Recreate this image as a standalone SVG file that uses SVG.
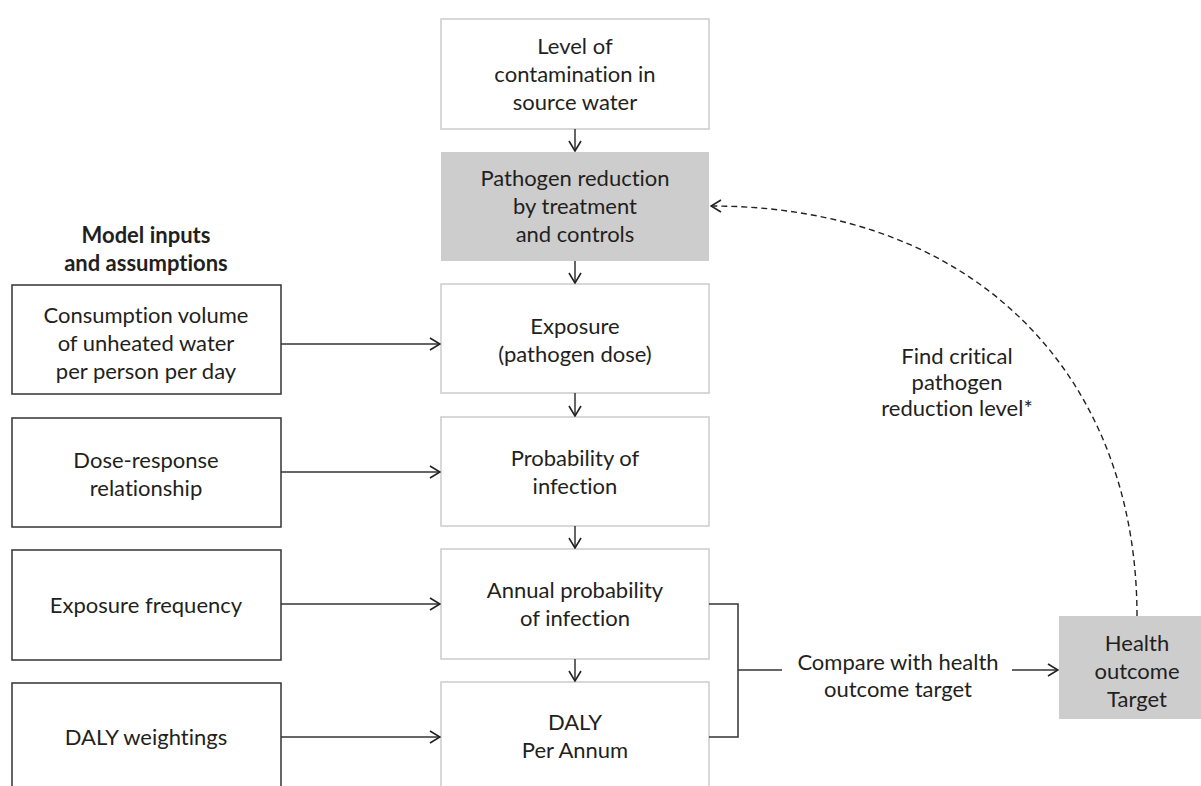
<svg xmlns="http://www.w3.org/2000/svg" width="1201" height="786" viewBox="0 0 1201 786">
  <defs>
    <style>
      text { font-family: Lato, "Open Sans", "Liberation Sans", sans-serif; font-size: 22px; fill: #231f20; text-anchor: middle; font-variant-ligatures: none; }
      .title { font-weight: bold; }
      .step { fill: #ffffff; stroke: #cbcbcb; stroke-width: 1.5; }
      .input { fill: #ffffff; stroke: #333333; stroke-width: 1.5; }
      .shaded { fill: #cdcdcd; stroke: none; }
      .link { fill: none; stroke: #333333; stroke-width: 1.5; }
      .feedback { fill: none; stroke: #222222; stroke-width: 1.4; stroke-dasharray: 6 4; }
    </style>
    <marker id="head" viewBox="0 0 12 14" refX="11" refY="7" markerWidth="12" markerHeight="14" markerUnits="userSpaceOnUse" orient="auto">
      <path d="M1,1 L11,7 L1,13" fill="none" stroke="#222222" stroke-width="1.6"/>
    </marker>
  </defs>

  <rect width="1201" height="786" fill="#ffffff"/>

  <!-- Central chain -->
  <g id="source-water">
    <rect class="step" x="441" y="19" width="268" height="110"/>
    <text x="575" y="54">Level of</text>
    <text x="575" y="82">contamination in</text>
    <text x="575" y="110">source water</text>
  </g>
  <g id="pathogen-reduction">
    <rect class="shaded" x="441" y="152" width="268" height="109"/>
    <text x="575" y="186">Pathogen reduction</text>
    <text x="575" y="214">by treatment</text>
    <text x="575" y="242">and controls</text>
  </g>
  <g id="exposure">
    <rect class="step" x="441" y="284" width="268" height="109"/>
    <text x="575" y="334">Exposure</text>
    <text x="575" y="362">(pathogen dose)</text>
  </g>
  <g id="probability-infection">
    <rect class="step" x="441" y="417" width="268" height="109"/>
    <text x="575" y="466">Probability of</text>
    <text x="575" y="494">infection</text>
  </g>
  <g id="annual-probability">
    <rect class="step" x="441" y="549" width="268" height="110"/>
    <text x="575" y="598">Annual probability</text>
    <text x="575" y="626">of infection</text>
  </g>
  <g id="daly-per-annum">
    <rect class="step" x="441" y="682" width="268" height="110"/>
    <text x="575" y="730">DALY</text>
    <text x="575" y="758">Per Annum</text>
  </g>

  <!-- Model inputs column -->
  <g id="inputs-heading">
    <text class="title" x="146" y="243">Model inputs</text>
    <text class="title" x="146" y="271">and assumptions</text>
  </g>
  <g id="consumption-volume">
    <rect class="input" x="12" y="285" width="269" height="109"/>
    <text x="146" y="323">Consumption volume</text>
    <text x="146" y="351">of unheated water</text>
    <text x="146" y="379">per person per day</text>
  </g>
  <g id="dose-response">
    <rect class="input" x="12" y="418" width="269" height="109"/>
    <text x="146" y="468">Dose-response</text>
    <text x="146" y="496">relationship</text>
  </g>
  <g id="exposure-frequency">
    <rect class="input" x="12" y="550" width="269" height="110"/>
    <text x="146" y="613">Exposure frequency</text>
  </g>
  <g id="daly-weightings">
    <rect class="input" x="12" y="683" width="269" height="110"/>
    <text x="146" y="745">DALY weightings</text>
  </g>

  <!-- Target -->
  <g id="health-target">
    <rect class="shaded" x="1059" y="616" width="156" height="103"/>
    <text x="1137" y="651">Health</text>
    <text x="1137" y="679">outcome</text>
    <text x="1137" y="707">Target</text>
  </g>

  <!-- Connectors -->
  <g id="connectors">
    <line class="link" x1="575" y1="129" x2="575" y2="151" marker-end="url(#head)"/>
    <line class="link" x1="575" y1="261" x2="575" y2="283" marker-end="url(#head)"/>
    <line class="link" x1="575" y1="393" x2="575" y2="416" marker-end="url(#head)"/>
    <line class="link" x1="575" y1="526" x2="575" y2="548" marker-end="url(#head)"/>
    <line class="link" x1="575" y1="659" x2="575" y2="681" marker-end="url(#head)"/>

    <line class="link" x1="281" y1="344" x2="440" y2="344" marker-end="url(#head)"/>
    <line class="link" x1="281" y1="472" x2="440" y2="472" marker-end="url(#head)"/>
    <line class="link" x1="281" y1="604" x2="440" y2="604" marker-end="url(#head)"/>
    <line class="link" x1="281" y1="737" x2="440" y2="737" marker-end="url(#head)"/>

    <polyline class="link" points="709,604 738,604 738,737 709,737"/>
    <line class="link" x1="738" y1="670" x2="782" y2="670"/>
    <line class="link" x1="1012" y1="670" x2="1058" y2="670" marker-end="url(#head)"/>

    <path class="feedback" d="M1137,616 C1137,380 980,206 711,206" marker-end="url(#head)"/>

    <g id="connector-labels">
      <text x="898" y="670">Compare with health</text>
      <text x="898" y="697">outcome target</text>
      <text x="957" y="364">Find critical</text>
      <text x="957" y="390">pathogen</text>
      <text x="957" y="416">reduction level*</text>
    </g>
  </g>
</svg>
